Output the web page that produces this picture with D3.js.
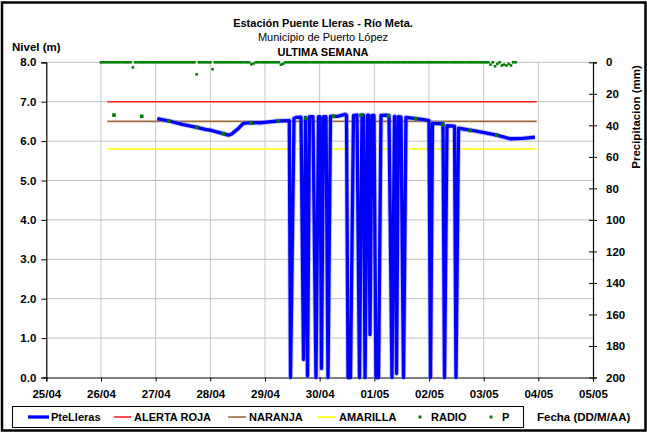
<!DOCTYPE html>
<html>
<head>
<meta charset="utf-8">
<script src="https://cdn.jsdelivr.net/npm/d3@7"></script>
<style>
  html, body { margin: 0; padding: 0; background: #fff; }
  svg { display: block; font-family: "Liberation Sans", Arial, sans-serif; }
</style>
</head>
<body>
<svg id="chart" width="647" height="432"></svg>
<script>
// ---- data (time = days since 25/04 00:00) ----
const dayLabels = ["25/04","26/04","27/04","28/04","29/04","30/04","01/05","02/05","03/05","04/05","05/05"];
const levelTicks = [0,1,2,3,4,5,6,7,8];
const precipTicks = [0,20,40,60,80,100,120,140,160,180,200];

const pteTime = [2.030,2.244,2.506,2.751,2.903,2.994,3.238,3.329,3.391,3.512,3.603,3.757,3.909,4.031,4.244,4.445,
  4.467,4.531,4.567,4.659,
  4.705,4.741,
  4.778,4.814,4.878,
  4.933,4.979,5.006,
  5.034,5.070,5.116,
  5.153,5.198,5.336,5.464,5.491,
  5.519,5.564,5.619,5.683,
  5.729,5.775,5.802,
  5.830,5.875,5.894,
  5.921,5.957,5.994,
  6.030,6.077,6.122,6.214,6.269,
  6.323,6.369,6.378,
  6.406,6.442,6.488,
  6.534,6.579,6.757,6.927,7.000,
  7.028,7.064,7.256,
  7.284,7.329,7.467,
  7.494,7.540,7.750,7.988,8.238,8.482,8.720,8.939];
const pteLevel = [6.57,6.51,6.42,6.35,6.30,6.28,6.19,6.15,6.18,6.32,6.45,6.47,6.46,6.48,6.51,6.52,
  0,6.58,6.60,6.61,
  0.46,6.60,
  0.03,6.62,6.62,
  0,6.62,6.62,
  0.23,6.62,6.62,
  0,6.63,6.63,6.68,6.66,
  0,0,6.65,6.66,
  0,6.66,6.66,
  0,6.66,6.66,
  1.09,6.65,6.65,
  0,0,6.65,6.66,6.65,
  0,6.63,6.63,
  0.1,6.62,6.61,
  0,6.60,6.57,6.54,6.52,
  0,6.45,6.44,
  0,6.39,6.38,
  0,6.33,6.28,6.22,6.15,6.06,6.07,6.10];

const radioTime  = [1.238,1.745,2.244,2.751,3.238,3.744,4.244,4.750,5.250,5.756,6.256,6.757,7.251,7.750,8.238];
const radioLevel = [6.66,6.63,6.51,6.35,6.19,6.46,6.51,6.58,6.63,6.66,6.64,6.57,6.42,6.27,6.15];

const thresholdSpan = [1.116, 8.970];
const alertaRoja = 7.0;
const naranja = 6.5;
const amarilla = 5.8;

// hourly precipitation (mm), starting 26/04 00:00
const pStartDay = 1.0;
const pHourly = [
  0,0,0,0,0,0,0,0,0,0,0,0,0,0,3.2,0,0,0,0,0,0,0,0,0,   // 26/04
  0,0,0,0,0,0,0,0,0,0,0,0,0,0,0,0,0,0,7.6,0,0,0,0,0,   // 27/04
  0,4.4,0,0,0,0,0,0,0,0,0,0,0,0,0,0,0,0,1.3,0.8,0,0,0,0, // 28/04
  0,0,0,0,0,0,0,1.5,1.0,0,0,0,0,0,0,0,0,0,0,0,0,0,0,0, // 29/04
  0,0,0,0,0,0,0,0,0,0,0,0,0,0,0,0,0,0,0,0,0,0,0,0,     // 30/04
  0,0,0,0,0,0,0,0,0,0,0,0,0,0,0,0,0,0,0,0,0,0,0,0,     // 01/05
  0,0,0,0,0,0,0,0,0,0,0,0,0,0,0,0,0,0,0,0,0,0,0,0,     // 02/05
  0,0,0,1.5,0,2.5,1.0,0,2.0,1.5,2.0,1.0,2.0,0,0        // 03/05
];

// ---- layout ----
const svg = d3.select("#chart");
const W = 647, H = 432;
const x0 = 46.3, x1 = 593, yTop = 62.3, yBot = 377.5;

const x = d3.scaleLinear().domain([0, 10]).range([x0, x1]);
const y = d3.scaleLinear().domain([0, 8]).range([yBot, yTop]);
const yP = d3.scaleLinear().domain([0, 200]).range([yTop, yBot]);

svg.append("rect").attr("x", 0).attr("y", 0).attr("width", W).attr("height", H).attr("fill", "#fff");
// outer frame
svg.append("rect").attr("x", 2).attr("y", 2.5).attr("width", W - 3.5).attr("height", H - 4)
  .attr("fill", "none").attr("stroke", "#000").attr("stroke-width", 2.5);

// grid
const grid = svg.append("g");
grid.selectAll("line.v").data(d3.range(1, 10)).join("line")
  .attr("x1", d => x(d)).attr("x2", d => x(d)).attr("y1", yTop).attr("y2", yBot)
  .attr("stroke", "#c8c8c8").attr("stroke-width", 1);
grid.selectAll("line.h").data(levelTicks.filter(d => d > 0)).join("line")
  .attr("x1", x0).attr("x2", x1).attr("y1", d => y(d)).attr("y2", d => y(d))
  .attr("stroke", "#c0c0c0").attr("stroke-width", 1);

// thresholds
const thr = [[alertaRoja, "#ff2020"], [naranja, "#9a6a3a"], [amarilla, "#ffff00"]];
svg.append("g").selectAll("line").data(thr).join("line")
  .attr("x1", x(thresholdSpan[0])).attr("x2", x(thresholdSpan[1]))
  .attr("y1", d => y(d[0])).attr("y2", d => y(d[0]))
  .attr("stroke", d => d[1]).attr("stroke-width", 1.6);

// axes
const axL = d3.axisLeft(y).tickValues(levelTicks).tickFormat(d3.format(".1f")).tickSize(5).tickPadding(5);
const gL = svg.append("g").attr("transform", `translate(${x0},0)`).call(axL);
const axR = d3.axisRight(yP).tickValues(precipTicks).tickSize(4).tickPadding(9);
const gR = svg.append("g").attr("transform", `translate(${x1},0)`).call(axR);
gR.selectAll(".tick line").attr("x1", -4);
const axB = d3.axisBottom(x).tickValues(d3.range(0, 11)).tickFormat(i => dayLabels[i]).tickSize(4).tickPadding(8);
const gB = svg.append("g").attr("transform", `translate(0,${yBot})`).call(axB);
[gL, gR, gB].forEach(g => {
  g.select(".domain").attr("stroke", "#000").attr("stroke-width", 1.2);
  g.selectAll(".tick line").attr("stroke", "#000");
  g.selectAll("text").attr("font-family", "Liberation Sans, Arial, sans-serif")
    .attr("font-size", 11.5).attr("font-weight", "bold").attr("fill", "#000");
});

// precipitation markers
const pData = pHourly.map((v, i) => ({ t: pStartDay + i / 24, v }));
svg.append("g").selectAll("rect").data(pData).join("rect")
  .attr("x", d => x(d.t) - 1.3).attr("y", d => yP(d.v) - 1.3)
  .attr("width", 2.6).attr("height", 2.6).attr("fill", "#008000");

// blue level line
const pteData = pteTime.map((t, i) => ({ t, v: pteLevel[i] }));
const line = d3.line().x(d => x(d.t)).y(d => y(d.v));
svg.append("path").datum(pteData).attr("d", line)
  .attr("fill", "none").attr("stroke", "#8c8cff").attr("stroke-width", 5).attr("stroke-opacity", 0.55)
  .attr("stroke-linejoin", "round");
svg.append("path").datum(pteData).attr("d", line)
  .attr("fill", "none").attr("stroke", "#0000ff").attr("stroke-width", 3.3)
  .attr("stroke-linejoin", "round");

// radio markers
const radioData = radioTime.map((t, i) => ({ t, v: radioLevel[i] }));
svg.append("g").selectAll("rect").data(radioData).join("rect")
  .attr("x", d => x(d.t) - 1.8).attr("y", d => y(d.v) - 1.8)
  .attr("width", 3.6).attr("height", 3.6).attr("fill", "#007a00");

// titles
const t = svg.append("g").attr("font-family", "Liberation Sans, Arial, sans-serif").attr("fill", "#000");
t.append("text").attr("x", 323).attr("y", 27).attr("text-anchor", "middle")
  .attr("font-size", 11).attr("font-weight", "bold").text("Estación Puente Lleras - Río Meta.");
t.append("text").attr("x", 323).attr("y", 41).attr("text-anchor", "middle")
  .attr("font-size", 11).text("Municipio de Puerto López");
t.append("text").attr("x", 323).attr("y", 56).attr("text-anchor", "middle")
  .attr("font-size", 11).attr("font-weight", "bold").text("ULTIMA SEMANA");
t.append("text").attr("x", 12).attr("y", 51)
  .attr("font-size", 11.5).attr("font-weight", "bold").text("Nivel (m)");
t.append("text").attr("transform", "translate(640,117) rotate(-90)").attr("text-anchor", "middle")
  .attr("font-size", 11.5).attr("font-weight", "bold").text("Precipitacion (mm)");
t.append("text").attr("x", 537).attr("y", 421)
  .attr("font-size", 11.5).attr("font-weight", "bold").text("Fecha (DD/M/AA)");

// legend
const lg = svg.append("g").attr("font-family", "Liberation Sans, Arial, sans-serif");
lg.append("rect").attr("x", 12.5).attr("y", 406.5).attr("width", 511).attr("height", 21)
  .attr("fill", "#fff").attr("stroke", "#000").attr("stroke-width", 1);
const ly = 417;
const legendItems = [
  { label: "PteLleras",   kind: "line", color: "#0000ff", w: 3.3, lx: 28, lx2: 49, tx: 51 },
  { label: "ALERTA ROJA", kind: "line", color: "#ff2020", w: 1.6, lx: 114, lx2: 131, tx: 134 },
  { label: "NARANJA",     kind: "line", color: "#9a6a3a", w: 1.6, lx: 228, lx2: 246, tx: 249 },
  { label: "AMARILLA",    kind: "line", color: "#ffff00", w: 1.6, lx: 317, lx2: 336, tx: 339 },
  { label: "RADIO",       kind: "dot",  color: "#007a00", lx: 420, tx: 431 },
  { label: "P",           kind: "dot",  color: "#008000", lx: 491, tx: 502 }
];
legendItems.forEach(d => {
  if (d.kind === "line") {
    lg.append("line").attr("x1", d.lx).attr("x2", d.lx2).attr("y1", ly).attr("y2", ly)
      .attr("stroke", d.color).attr("stroke-width", d.w);
  } else {
    lg.append("rect").attr("x", d.lx - 1.5).attr("y", ly - 1.5).attr("width", 3).attr("height", 3).attr("fill", d.color);
  }
  lg.append("text").attr("x", d.tx).attr("y", ly + 4).attr("font-size", 11).attr("font-weight", "bold")
    .attr("fill", "#000").text(d.label);
});
</script>
</body>
</html>
